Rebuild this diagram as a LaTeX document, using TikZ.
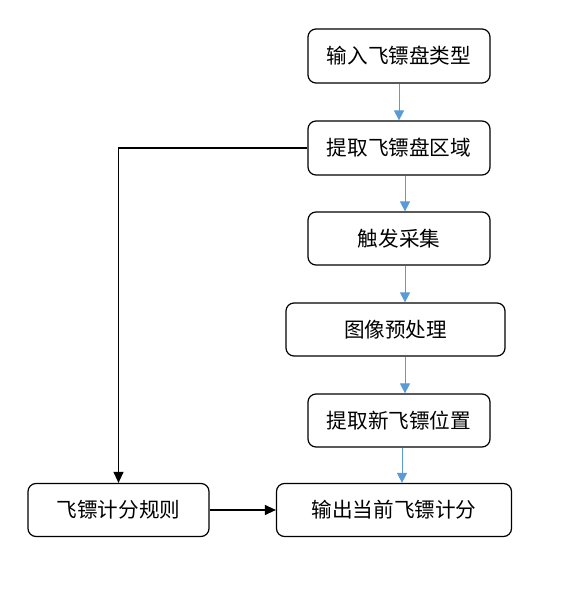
\documentclass[tikz,border=0pt]{standalone}
\usepackage{fontspec}
\setmainfont{Noto Sans CJK SC}
\usetikzlibrary{arrows.meta}
\definecolor{flowblue}{HTML}{5B9BD5}
\begin{document}
\begin{tikzpicture}[x=1pt,y=1pt,
  box/.style={draw=black,line width=1.2pt,rounded corners=8pt,minimum height=53pt,inner sep=0pt,font=\fontsize{20.6}{22}\selectfont},
  bluearrow/.style={draw=flowblue,line width=1pt,-{Triangle[length=10pt,width=10pt]}},
  blackarrow/.style={draw=black,line width=1.2pt,-{Triangle[length=11pt,width=10pt]}}]
\useasboundingbox (0,0) rectangle (578,589);
\node[box,minimum width=182pt,minimum height=54pt] (n1) at (399,533) {输入飞镖盘类型};
\node[box,minimum width=182pt,minimum height=54pt] (n2) at (399,441) {提取飞镖盘区域};
\node[box,minimum width=182pt] (n3) at (399,350.5) {触发采集};
\node[box,minimum width=219pt] (n4) at (395.5,259.5) {图像预处理};
\node[box,minimum width=182pt] (n5) at (399,168.5) {提取新飞镖位置};
\node[box,minimum width=181pt] (n6) at (118.5,79) {飞镖计分规则};
\node[box,minimum width=235pt] (n7) at (394,79) {输出当前飞镖计分};
\draw[bluearrow] (n1.south) -- (n2.north);
\draw[bluearrow] ([xshift=6pt]n2.south) -- ([xshift=6pt]n3.north);
\draw[bluearrow] ([xshift=6pt]n3.south) -- ([xshift=9.5pt]n4.north);
\draw[bluearrow] ([xshift=9.5pt]n4.south) -- ([xshift=6pt]n5.north);
\draw[bluearrow] ([xshift=3pt]n5.south) -- ([xshift=8pt]n7.north);
\draw[blackarrow] (n2.west) -| (n6.north);
\draw[blackarrow] (n6.east) -- (n7.west);
\end{tikzpicture}
\end{document}
